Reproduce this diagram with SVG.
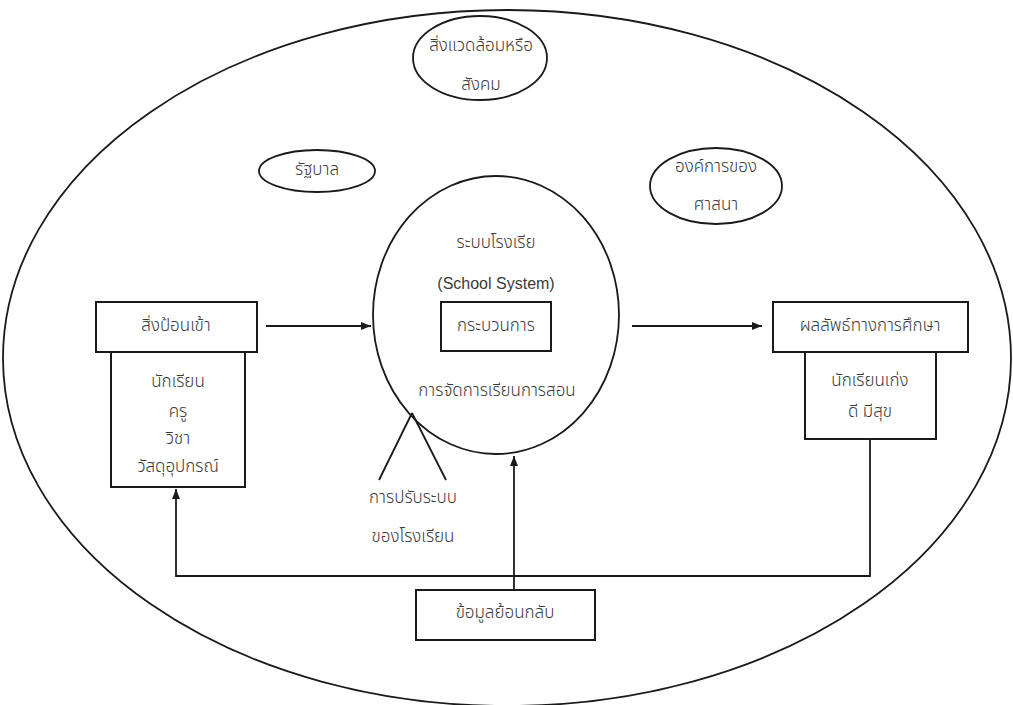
<svg xmlns="http://www.w3.org/2000/svg" width="1013" height="705" viewBox="0 0 1013 705">
<style>
.s{fill:none;stroke:#1a1a1a;stroke-width:1.8}
.b{fill:#fff;stroke:#1a1a1a;stroke-width:2}
.t{font-family:"Noto Sans Thai","Liberation Sans",sans-serif;font-size:17px;font-weight:300;fill:#3a3a3a;text-anchor:middle;dominant-baseline:central}
.e{font-family:"Liberation Sans",Arial,sans-serif;font-size:16px;font-weight:400;fill:#3a3a3a;text-anchor:middle;dominant-baseline:central}
.c{fill:none;stroke:#1a1a1a;stroke-width:1.8}
</style>
<defs>
<marker id="ah" viewBox="0 0 10 10" refX="10" refY="5" markerWidth="10" markerHeight="10" markerUnits="userSpaceOnUse" orient="auto">
<path d="M0,1 L10,5 L0,9 Z" fill="#1a1a1a"/>
</marker>
</defs>
<rect width="1013" height="705" fill="#fff"/>
<g id="environment">
<ellipse class="s" cx="507" cy="358" rx="504" ry="348"/>
</g>
<g id="society">
<ellipse class="s" cx="480" cy="58" rx="67" ry="42"/>
<text class="t" x="481" y="46">สิ่งแวดล้อมหรือ</text>
<text class="t" x="481" y="85">สังคม</text>
</g>
<g id="government">
<ellipse class="s" cx="317" cy="171" rx="58" ry="21"/>
<text class="t" x="317" y="170">รัฐบาล</text>
</g>
<g id="religion">
<ellipse class="s" cx="716" cy="186" rx="66" ry="38"/>
<text class="t" x="716" y="167">องค์การของ</text>
<text class="t" x="716" y="205">ศาสนา</text>
</g>
<g id="school-system">
<ellipse class="s" cx="496" cy="315" rx="123" ry="139"/>
<text class="t" x="496" y="243">ระบบโรงเรีย</text>
<text class="e" x="496" y="283">(School System)</text>
<text class="t" x="497" y="391">การจัดการเรียนการสอน</text>
</g>
<g id="process">
<rect class="b" x="441" y="302" width="110" height="49"/>
<text class="t" x="496" y="326">กระบวนการ</text>
</g>
<g id="input">
<rect class="b" x="111" y="352" width="134" height="135"/>
<rect class="b" x="96" y="302" width="161" height="50"/>
<text class="t" x="176" y="326">สิ่งป้อนเข้า</text>
<text class="t" x="178" y="382">นักเรียน</text>
<text class="t" x="178" y="412">ครู</text>
<text class="t" x="178" y="439">วิชา</text>
<text class="t" x="178" y="467">วัสดุอุปกรณ์</text>
</g>
<g id="output">
<rect class="b" x="805" y="352" width="131" height="87"/>
<rect class="b" x="773" y="302" width="195" height="50"/>
<text class="t" x="870" y="326">ผลลัพธ์ทางการศึกษา</text>
<text class="t" x="870" y="381">นักเรียนเก่ง</text>
<text class="t" x="870" y="412">ดี มีสุข</text>
</g>
<g id="adjust">
<text class="t" x="413" y="498">การปรับระบบ</text>
<text class="t" x="413" y="537">ของโรงเรียน</text>
</g>
<g id="feedback">
<rect class="b" x="416" y="590" width="179" height="50"/>
<text class="t" x="505" y="613">ข้อมูลย้อนกลับ</text>
</g>
<g id="connectors">
<line class="c" x1="266" y1="326" x2="371" y2="326" marker-end="url(#ah)"/>
<line class="c" x1="632" y1="326" x2="762" y2="326" marker-end="url(#ah)"/>
<polyline class="c" points="412,413 379,480"/>
<polyline class="c" points="412,413 446,480"/>
<line class="c" x1="514" y1="590" x2="514" y2="456" marker-end="url(#ah)"/>
<polyline class="c" points="870,439 870,576 176,576 176,489" marker-end="url(#ah)"/>
</g>
</svg>
